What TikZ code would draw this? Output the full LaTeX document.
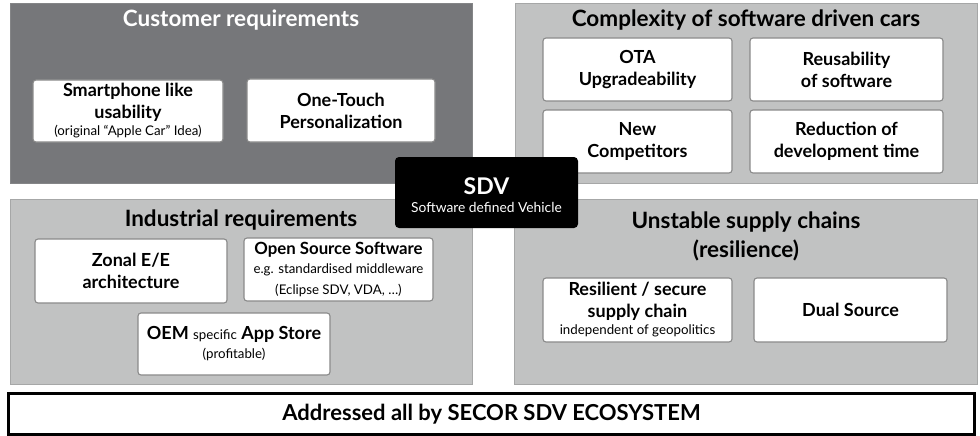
\documentclass[tikz,border=0pt]{standalone}
\usepackage{fontspec}
\setmainfont{Lato}
\definecolor{darkpanel}{HTML}{76777A}
\definecolor{lightpanel}{HTML}{C1C2C2}
\definecolor{panelline}{HTML}{A6A7A7}
\definecolor{boxline}{HTML}{8A8A8A}
\newcommand{\smalltxt}{\fontsize{13.3}{15}\selectfont\mdseries}
\begin{document}
\begin{tikzpicture}[x=1pt,y=-1pt,
  panel/.style={rectangle, draw=panelline, line width=1pt, fill=lightpanel, inner sep=0pt},
  darkpanelbox/.style={rectangle, draw=darkpanel!90!white, line width=1pt, fill=darkpanel, inner sep=0pt},
  ptitle/.style={font=\fontsize{22.5}{29}\selectfont\bfseries, align=center, inner sep=0pt},
  ibox/.style={rectangle, rounded corners=3pt, draw=boxline, line width=1.1pt, fill=white,
    align=center, inner sep=0pt, font=\fontsize{18}{22}\selectfont\bfseries},
  sdvbox/.style={rectangle, rounded corners=4pt, fill=black, inner sep=0pt},
  sdvtext/.style={anchor=base, inner sep=0pt, text=white},
  bottombox/.style={rectangle, draw=black, line width=2.5pt, fill=white, inner sep=0pt,
    font=\fontsize{22}{26}\selectfont\bfseries}
]
\useasboundingbox (0,0) rectangle (980,436);
% panels
\node[darkpanelbox, minimum width=462, minimum height=179] (cust) at (241,93.5) {};
\node[panel, minimum width=462, minimum height=179] (cplx) at (746,93.5) {};
\node[panel, minimum width=462, minimum height=185] (ind) at (241,291.5) {};
\node[panel, minimum width=463, minimum height=185] (sup) at (745.5,291.5) {};
% titles
\node[ptitle, text=white] (custT) at (241,20) {Customer requirements};
\node[ptitle] (cplxT) at (746,20) {Complexity of software driven cars};
\node[ptitle] (indT) at (241,220) {Industrial requirements};
\node[ptitle] (supT) at (746,236) {Unstable supply chains\\(resilience)};
% customer boxes
\node[ibox, minimum width=190, minimum height=62] (smart) at (128,111)
  {Smartphone like\\usability\\[-5pt]{\smalltxt (original “Apple Car” Idea)}};
\node[ibox, minimum width=188, minimum height=63] (touch) at (341,110.5)
  {One-Touch\\Personalization};
% complexity boxes
\node[ibox, minimum width=189, minimum height=63] (ota) at (637.5,69.5) {OTA\\Upgradeability};
\node[ibox, minimum width=193, minimum height=63] (reuse) at (846.5,69.5) {Reusability\\of software};
\node[ibox, minimum width=189, minimum height=63] (comp) at (637.5,141.5) {New\\Competitors};
\node[ibox, minimum width=193, minimum height=63] (redu) at (846.5,141.5) {Reduction of\\development time};
% industrial boxes
\node[ibox, minimum width=192, minimum height=64] (zonal) at (131,271) {Zonal E/E\\architecture};
\node[ibox, minimum width=189, minimum height=63] (oss) at (338.5,269.5)
  {{\fontsize{16.8}{20}\selectfont Open Source Software}\\[-3pt]{\smalltxt e.g. standardised middleware}\\[-1pt]{\smalltxt (Eclipse SDV, VDA, …)}};
\node[ibox, minimum width=192, minimum height=62] (oem) at (234,344)
  {OEM {\fontsize{13.3}{15}\selectfont\mdseries specific} App Store\\[-3pt]{\smalltxt (profitable)}};
% supply boxes
\node[ibox, minimum width=189, minimum height=64] (resil) at (637.5,310)
  {Resilient / secure\\supply chain\\[-5pt]{\smalltxt independent of geopolitics}};
\node[ibox, minimum width=193, minimum height=64] (dual) at (850.5,310) {Dual Source};
% SDV
\node[sdvbox, minimum width=183, minimum height=71] (sdv) at (486.5,192.5) {};
\node[sdvtext, font=\fontsize{23}{25}\selectfont\bfseries] (sdvT) at (486.5,194.5) {SDV};
\node[sdvtext, font=\fontsize{13.8}{16}\selectfont] (sdvS) at (486.5,212.5) {Software defined Vehicle};
% bottom
\node[bottombox, minimum width=966, minimum height=41] (eco) at (491.5,414)
  {Addressed all by SECOR SDV ECOSYSTEM};
\end{tikzpicture}
\end{document}
